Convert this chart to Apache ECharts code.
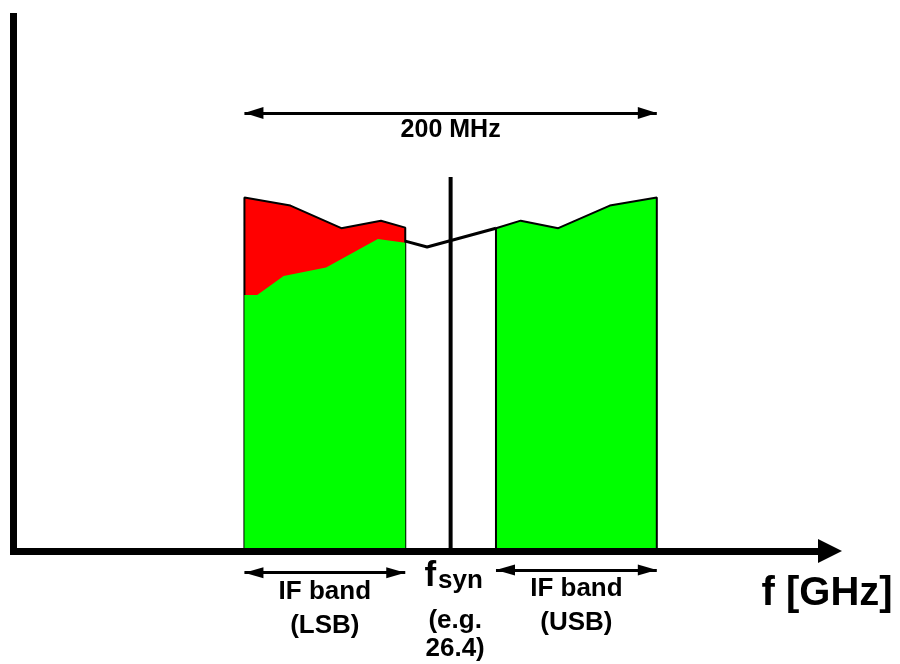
<!DOCTYPE html>
<html><head><meta charset="utf-8">
<script src="https://cdn.jsdelivr.net/npm/echarts@6/dist/echarts.min.js"></script>
<style>html,body{margin:0;padding:0;background:#fff}#chart{width:900px;height:664px}</style>
</head><body><div id="chart"></div>
<script>
// Frequency offsets from f_syn (MHz) and power (arbitrary units)
const lsbFreq = [-100, -93.8, -81, -60.4, -35.3, -22];
const lsbPower = [47.6, 47.6, 51.1, 52.7, 58.0, 57.3];
const imageFreq = [-100, -77.7, -53, -33.8, -22];
const imagePower = [65.7, 64.2, 60.0, 61.4, 60.1];
const usbFreq = [22, 34, 52.2, 77.2, 100];
const usbPower = [60.0, 61.4, 60.0, 64.2, 65.7];
const gapFreq = [-22, -11.4, 22];
const gapPower = [57.6, 56.5, 60.0];
const fsynFreq = [0, 0];
const fsynPower = [0, 69.5];
const spanEdges = [-100, 100];
const spanLevel = 81.4;
const spanText = '200 MHz';
const lsbEdges = [-100, -22];
const usbEdges = [22, 100];
const lsbText = 'IF band\n(LSB)';
const usbText = 'IF band\n(USB)';
const fsynText = ['f', 'syn'];
const fsynNote = '(e.g.\n26.4)';
const axisText = 'f [GHz]';

const FONT = '"Liberation Sans", Arial, Helvetica, sans-serif';
const zip = (xs, ys) => xs.map((x, i) => [x, ys[i]]);
const band = (xs, ys) => [[xs[0], 0]].concat(zip(xs, ys), [[xs[xs.length - 1], 0]]);
const txt = (size, extra) => Object.assign({color: '#000', fontFamily: FONT, fontWeight: 'bold', fontSize: size}, extra || {});

const chart = echarts.init(document.getElementById('chart'), null, {renderer: 'canvas'});
const hidden = {show: false};
const X_MIN = -212, X_MAX = 184;
chart.setOption({
  animation: false,
  backgroundColor: '#fff',
  grid: [
    {left: 13.5, right: 70, top: 13, bottom: 113},
    {left: 13.5, right: 70, top: 551, bottom: 0}
  ],
  xAxis: [
    {type: 'value', gridIndex: 0, min: X_MIN, max: X_MAX, z: 10,
     axisLine: {show: true, onZero: false, symbol: ['none', 'triangle'], symbolSize: [24, 24],
                lineStyle: {color: '#000', width: 7, cap: 'square'}},
     axisTick: hidden, axisLabel: hidden, splitLine: hidden},
    {type: 'value', gridIndex: 1, min: X_MIN, max: X_MAX, show: false}
  ],
  yAxis: [
    {type: 'value', gridIndex: 0, min: 0, max: 100, z: 10,
     axisLine: {show: true, onZero: false, lineStyle: {color: '#000', width: 7, cap: 'butt'}},
     axisTick: hidden, axisLabel: hidden, splitLine: hidden},
    {type: 'value', gridIndex: 1, min: 0, max: 113, inverse: true, show: false}
  ],
  series: [
    {name: 'image', type: 'line', xAxisIndex: 0, yAxisIndex: 0, z: 2,
     data: band(imageFreq, imagePower), showSymbol: false, silent: true,
     lineStyle: {color: '#000', width: 2}, areaStyle: {color: '#ff0000', opacity: 1},
     markLine: {silent: true, symbol: ['triangle', 'triangle'], symbolSize: [12, 19],
       symbolOffset: [[0, 9.5], [0, 9.5]],
       lineStyle: {color: '#000', width: 3, type: 'solid'},
       label: txt(25, {show: true, position: 'insideMiddleBottom', distance: 5, formatter: spanText}),
       data: [[{coord: [spanEdges[0], spanLevel]}, {coord: [spanEdges[1], spanLevel]}]]}},
    {name: 'LSB', type: 'line', xAxisIndex: 0, yAxisIndex: 0, z: 3,
     data: band(lsbFreq, lsbPower), showSymbol: false, silent: true,
     lineStyle: {opacity: 0}, areaStyle: {color: '#00ff00', opacity: 1}},
    {name: 'USB', type: 'line', xAxisIndex: 0, yAxisIndex: 0, z: 3,
     data: band(usbFreq, usbPower), showSymbol: false, silent: true,
     lineStyle: {color: '#000', width: 2}, areaStyle: {color: '#00ff00', opacity: 1}},
    {name: 'gap', type: 'line', xAxisIndex: 0, yAxisIndex: 0, z: 4,
     data: zip(gapFreq, gapPower), showSymbol: false, silent: true,
     lineStyle: {color: '#000', width: 3}},
    {name: 'fsyn', type: 'line', xAxisIndex: 0, yAxisIndex: 0, z: 5,
     data: zip(fsynFreq, fsynPower), showSymbol: false, silent: true,
     lineStyle: {color: '#000', width: 4}},
    {name: 'labels', type: 'scatter', xAxisIndex: 1, yAxisIndex: 1, z: 5,
     symbolSize: 2, itemStyle: {color: 'rgba(0,0,0,0)', opacity: 1}, silent: true, clip: false,
     data: [
       {value: [1.45, 26], label: {show: true, position: 'inside',
         formatter: '{f|' + fsynText[0] + '}{s|' + fsynText[1] + '}',
         rich: {f: txt(35, {verticalAlign: 'bottom', lineHeight: 34}),
                s: txt(26, {verticalAlign: 'bottom', lineHeight: 24, padding: [0, 0, 0, 2]})}}},
       {value: [2.2, 84], label: txt(26, {show: true, position: 'inside', lineHeight: 28, align: 'center', formatter: fsynNote})},
       {value: [182.6, 43], label: txt(40, {show: true, position: 'inside', formatter: axisText})}
     ],
     markLine: {silent: true, symbol: ['triangle', 'triangle'], symbolSize: [11, 19],
       symbolOffset: [[0, 9.5], [0, 9.5]],
       lineStyle: {color: '#000', width: 3, type: 'solid'},
       label: txt(26, {show: true, position: 'insideMiddleBottom', distance: 2, lineHeight: 34, align: 'center'}),
       data: [
         [{coord: [lsbEdges[0], 21.7], label: {formatter: lsbText}}, {coord: [lsbEdges[1], 21.7]}],
         [{coord: [usbEdges[0], 19], label: {formatter: usbText}}, {coord: [usbEdges[1], 19]}]
       ]}}
  ]
});
</script></body></html>
